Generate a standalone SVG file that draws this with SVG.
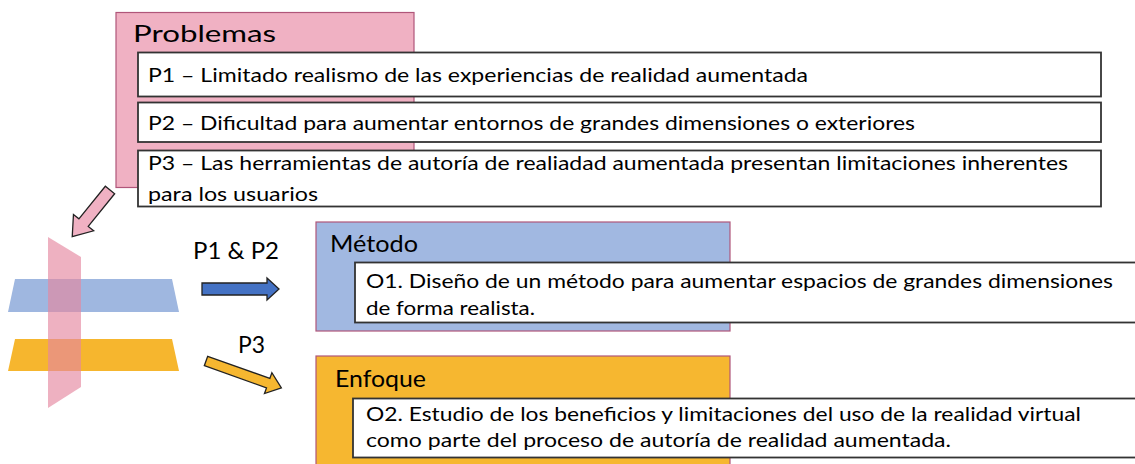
<svg xmlns="http://www.w3.org/2000/svg" width="1135" height="464" viewBox="0 0 1135 464">
<style>
text{font-family:Lato,"Open Sans","Liberation Sans",sans-serif;fill:#000}
.t{font-size:20px}
.h{font-size:24px}
.box{fill:#fff;stroke:#333;stroke-width:1.8}
.grp{stroke:#B0567A;stroke-width:1.2}
.arr{stroke:#222;stroke-width:1.3;stroke-linejoin:miter}
</style>
<rect width="1135" height="464" fill="#fff"/>

<g id="problemas">
<rect x="116" y="12.5" width="298" height="175" fill="#F0B1C3" class="grp"/>
<text class="h" x="133" y="42" textLength="143" lengthAdjust="spacingAndGlyphs">Problemas</text>
</g>
<g id="p1">
<rect class="box" x="138" y="52.5" width="963" height="44"/>
<text class="t" x="148" y="82" textLength="660" lengthAdjust="spacingAndGlyphs">P1 – Limitado realismo de las experiencias de realidad aumentada</text>
</g>
<g id="p2">
<rect class="box" x="138" y="102.5" width="963" height="39.5"/>
<text class="t" x="148" y="130" textLength="767" lengthAdjust="spacingAndGlyphs">P2 – Dificultad para aumentar entornos de grandes dimensiones o exteriores</text>
</g>
<g id="p3">
<rect class="box" x="138" y="150.5" width="963" height="56"/>
<text class="t" x="148" y="170" textLength="920" lengthAdjust="spacingAndGlyphs">P3 – Las herramientas de autoría de realiadad aumentada presentan limitaciones inherentes</text>
<text class="t" x="148" y="201" textLength="170" lengthAdjust="spacingAndGlyphs">para los usuarios</text>
</g>

<g id="planes">
<polygon points="15,279 172,279 179,312 8,312" fill="#9FB7E0"/>
<polygon points="15,339 172,339 179,371 8,371" fill="#F6B62E"/>
<polygon points="48,237 81,257 81,387 48,408" fill="#E5879F" fill-opacity="0.65"/>
</g>

<g id="metodo">
<rect x="316" y="222" width="414" height="109" fill="#A1B8E1" class="grp"/>
<text class="h" x="330" y="252" textLength="88" lengthAdjust="spacingAndGlyphs">Método</text>
</g>
<g id="o1">
<rect class="box" x="355" y="262.5" width="790" height="60"/>
<text class="t" x="366" y="288" textLength="747" lengthAdjust="spacingAndGlyphs">O1. Diseño de un método para aumentar espacios de grandes dimensiones</text>
<text class="t" x="366" y="315" textLength="169" lengthAdjust="spacingAndGlyphs">de forma realista.</text>
</g>

<g id="enfoque">
<rect x="316" y="356" width="414" height="120" fill="#F6B730" class="grp"/>
<text class="h" x="335" y="387" textLength="91" lengthAdjust="spacingAndGlyphs">Enfoque</text>
</g>
<g id="o2">
<rect class="box" x="353" y="398.5" width="790" height="59"/>
<text class="t" x="366" y="421" textLength="715" lengthAdjust="spacingAndGlyphs">O2. Estudio de los beneficios y limitaciones del uso de la realidad virtual</text>
<text class="t" x="366" y="447" textLength="585" lengthAdjust="spacingAndGlyphs">como parte del proceso de autoría de realidad aumentada.</text>
</g>

<g id="connectors">
<path class="arr" fill="#F0B1C3" transform="translate(110,190) rotate(129)" d="M0,-6 L42,-6 L42,-13 L60,0 L42,13 L42,6 L0,6 Z"/>
<path class="arr" fill="#4472C4" d="M202,283 L267,283 L267,278 L279,289 L267,300 L267,295 L202,295 Z"/>
<path class="arr" fill="#F6B730" transform="translate(206,361) rotate(19.6)" d="M0,-5 L66,-5 L66,-11 L80,0 L66,11 L66,5 L0,5 Z"/>
<text x="193" y="259" style="font-size:23px" textLength="86" lengthAdjust="spacingAndGlyphs">P1 &amp; P2</text>
<text x="238" y="353" style="font-size:23px" textLength="27" lengthAdjust="spacingAndGlyphs">P3</text>
</g>
</svg>
